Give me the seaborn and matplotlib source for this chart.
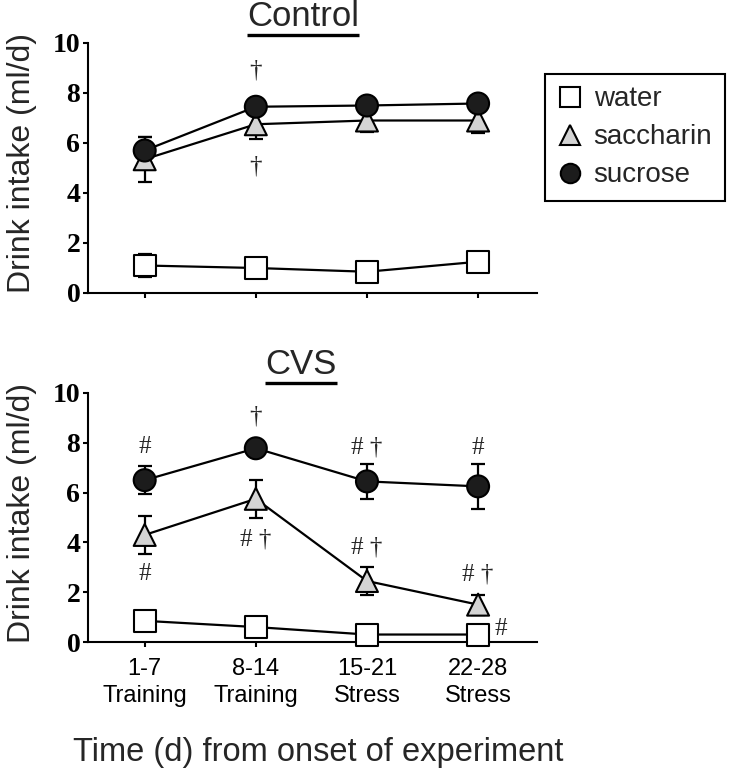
import numpy as np
import pandas as pd
import matplotlib
matplotlib.use("Agg")
import matplotlib.pyplot as plt
import seaborn as sns
from matplotlib.lines import Line2D

# ---------------- data ----------------
periods = ["1-7\nTraining", "8-14\nTraining", "15-21\nStress", "22-28\nStress"]
series = ["water", "saccharin", "sucrose"]

ctrl_water = [1.1, 1.0, 0.85, 1.25]
ctrl_water_err = [0.45, 0.15, 0.15, 0.15]
ctrl_sacch = [5.35, 6.75, 6.9, 6.9]
ctrl_sacch_err = [0.9, 0.6, 0.45, 0.5]
ctrl_sucr = [5.7, 7.45, 7.5, 7.58]
ctrl_sucr_err = [0.55, 0.2, 0.2, 0.2]

cvs_water = [0.85, 0.6, 0.3, 0.3]
cvs_water_err = [0.15, 0.1, 0.1, 0.1]
cvs_sacch = [4.3, 5.75, 2.45, 1.5]
cvs_sacch_err = [0.75, 0.75, 0.55, 0.4]
cvs_sucr = [6.5, 7.78, 6.45, 6.25]
cvs_sucr_err = [0.55, 0.2, 0.7, 0.9]

# annotations: (text, x position, y value)
ctrl_notes_text = ["\u2020", "\u2020"]
ctrl_notes_x = [1, 1]
ctrl_notes_y = [8.9, 5.05]

cvs_notes_text = ["#", "\u2020", "# \u2020", "#", "#", "# \u2020", "# \u2020", "# \u2020", "#"]
cvs_notes_x = [0, 1, 2, 3, 0, 1, 2, 3, 3.2]
cvs_notes_y = [7.85, 9.05, 7.8, 7.8, 2.75, 4.1, 3.8, 2.7, 0.52]

panels = {
    "Control": {"water": (ctrl_water, ctrl_water_err),
                "saccharin": (ctrl_sacch, ctrl_sacch_err),
                "sucrose": (ctrl_sucr, ctrl_sucr_err)},
    "CVS": {"water": (cvs_water, cvs_water_err),
            "saccharin": (cvs_sacch, cvs_sacch_err),
            "sucrose": (cvs_sucr, cvs_sucr_err)},
}

rows = []
for pname, pdata in panels.items():
    for s in series:
        vals, errs = pdata[s]
        for i, (v, e) in enumerate(zip(vals, errs)):
            rows.append({"panel": pname, "series": s, "x": i, "value": v, "err": e})
df = pd.DataFrame(rows)

# ---------------- style ----------------
sns.set_style("ticks")
plt.rcParams["font.family"] = ["Liberation Sans", "DejaVu Sans"]
SANS = ["Liberation Sans", "DejaVu Sans"]
SERIF = ["Liberation Serif", "DejaVu Serif"]

face = {"water": "white", "saccharin": "#d4d4d4", "sucrose": "#1c1c1c"}
marks = {"water": "s", "saccharin": "^", "sucrose": "o"}

W, H = 730, 772
fig = plt.figure(figsize=(W / 100, H / 100), dpi=100)

def px_rect(x0, y0, x1, y1):
    return [x0 / W, 1 - y1 / H, (x1 - x0) / W, (y1 - y0) / H]

ax_top = fig.add_axes(px_rect(88, 43, 537, 293))
ax_bot = fig.add_axes(px_rect(88, 393, 537, 642))

for ax, pname in [(ax_top, "Control"), (ax_bot, "CVS")]:
    d = df[df["panel"] == pname]
    sns.lineplot(data=d, x="x", y="value", hue="series", hue_order=series,
                 palette={s: "black" for s in series}, estimator=None,
                 linewidth=1.6, legend=False, ax=ax, zorder=2)
    for s in series:
        ds = d[d["series"] == s]
        ax.errorbar(ds["x"], ds["value"], yerr=ds["err"], fmt="none",
                    ecolor="black", elinewidth=1.6, capsize=5, capthick=1.6,
                    zorder=1.5, clip_on=False)
    sns.scatterplot(data=d, x="x", y="value", hue="series", hue_order=series,
                    style="series", style_order=series, markers=marks,
                    palette=face, s=250, edgecolor="black", linewidth=1.5,
                    legend=False, ax=ax, zorder=3, clip_on=False)

    ax.set_xlim(-0.51, 3.53)
    ax.set_ylim(0, 10)
    ax.set_yticks([0, 2, 4, 6, 8, 10])
    ax.set_yticklabels(["0", "2", "4", "6", "8", "10"])
    for lbl in ax.get_yticklabels():
        lbl.set_fontfamily(SERIF)
        lbl.set_fontweight("bold")
        lbl.set_fontsize(20)
    ax.set_xticks(range(len(periods)))
    ax.set_xlabel("")
    ax.set_ylabel("Drink intake (ml/d)", fontsize=23, family=SANS)
    ax.yaxis.set_label_coords(-0.1136, 0.52)
    for sp in ["top", "right"]:
        ax.spines[sp].set_visible(False)
    for sp in ["left", "bottom"]:
        ax.spines[sp].set_linewidth(1.5)
        ax.spines[sp].set_color("black")
    ax.tick_params(axis="y", direction="out", length=3.5, width=1.5, pad=2, colors="black")
    ax.tick_params(axis="x", direction="out", length=3.5, width=1.5, pad=8, colors="black")
    ax.set_facecolor("white")

ax_top.set_xticklabels([])
ax_bot.set_xticklabels(periods, fontsize=17, family=SANS, linespacing=1.3)

for t, x, y in zip(ctrl_notes_text, ctrl_notes_x, ctrl_notes_y):
    ax_top.text(x, y, t, ha="center", va="center", fontsize=18, family=SERIF)
for t, x, y in zip(cvs_notes_text, cvs_notes_x, cvs_notes_y):
    ax_bot.text(x, y, t, ha="center", va="center", fontsize=18, family=SERIF)

# titles with underline
titles = []
titles.append(fig.text(303 / W, 1 - 17 / H, "Control", ha="center", va="center",
                       fontsize=25, family=SANS))
titles.append(fig.text(301 / W, 1 - 365 / H, "CVS", ha="center", va="center",
                       fontsize=25, family=SANS))

fig.text(318 / W, 1 - 753 / H, "Time (d) from onset of experiment",
         ha="center", va="center", fontsize=23.5, family=SANS)

# legend
handles = [Line2D([], [], linestyle="none", marker=marks[s], markersize=14,
                  markerfacecolor=face[s], markeredgecolor="black",
                  markeredgewidth=1.5) for s in series]
leg = fig.legend(handles, series, loc="upper left",
                 bbox_to_anchor=(545 / W, 1 - 74 / H), borderaxespad=0,
                 frameon=True, fancybox=False, edgecolor="black", framealpha=1,
                 prop={"family": SANS, "size": 20}, handlelength=0.9,
                 handletextpad=0.4, labelspacing=0.43, borderpad=0.45)
leg.get_frame().set_linewidth(1.5)

fig.canvas.draw()
renderer = fig.canvas.get_renderer()
for t in titles:
    bb = t.get_window_extent(renderer).transformed(fig.transFigure.inverted())
    yline = bb.y0 - 1.0 / H
    fig.add_artist(Line2D([bb.x0, bb.x1], [yline, yline], transform=fig.transFigure,
                          color="black", linewidth=2.4, solid_capstyle="butt"))

fig.savefig("out.png", dpi=100, facecolor="white")
